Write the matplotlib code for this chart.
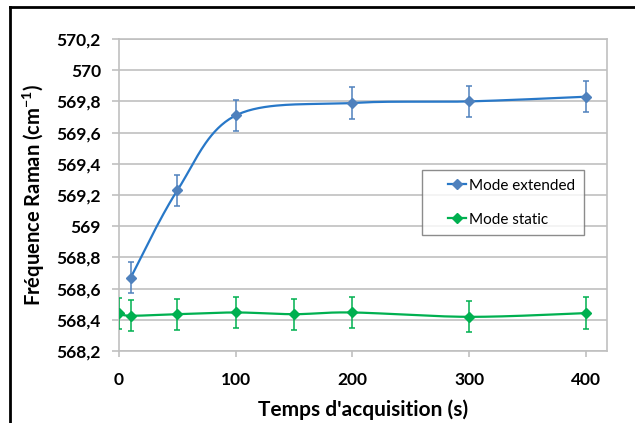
import matplotlib
matplotlib.use('Agg')
import matplotlib.pyplot as plt
import numpy as np
from matplotlib.lines import Line2D
from matplotlib.legend_handler import HandlerLine2D
from matplotlib.ticker import FuncFormatter, MultipleLocator

plt.rcParams['font.family'] = ['Lato', 'DejaVu Sans']
plt.rcParams['mathtext.fontset'] = 'custom'
plt.rcParams['mathtext.rm'] = 'Lato'
plt.rcParams['mathtext.bf'] = 'Lato:bold'

# données
t_extended = [10, 50, 100, 200, 300, 400]
f_extended = [568.67, 569.23, 569.71, 569.79, 569.80, 569.83]
err_extended = [0.1, 0.1, 0.1, 0.1, 0.1, 0.1]

t_static = [0, 10, 50, 100, 150, 200, 300, 400]
f_static = [568.441, 568.426, 568.436, 568.447, 568.436, 568.447, 568.419, 568.443]
err_static = [0.1, 0.1, 0.1, 0.1, 0.1, 0.1, 0.1, 0.1]

labels = ['Mode extended', 'Mode static']
col_line = ['#2878C8', '#00B050']
col_mark = ['#4F81BD', '#00B050']


def smooth(x, y, n=40):
    # lissage type Excel (Bezier, tangentes Catmull-Rom)
    p = np.column_stack([x, y]).astype(float)
    pts = []
    for i in range(len(p) - 1):
        p0 = p[i - 1] if i > 0 else p[i]
        p3 = p[i + 2] if i + 2 < len(p) else p[i + 1]
        c1 = p[i] + (p[i + 1] - p0) / 6
        c2 = p[i + 1] - (p3 - p[i]) / 6
        t = np.linspace(0, 1, n)[:, None]
        seg = ((1 - t) ** 3 * p[i] + 3 * (1 - t) ** 2 * t * c1
               + 3 * (1 - t) * t ** 2 * c2 + t ** 3 * p[i + 1])
        pts.append(seg if i == 0 else seg[1:])
    s = np.vstack(pts)
    return s[:, 0], s[:, 1]


class ShortHandler(HandlerLine2D):
    # trait de légende court, collé au texte
    def create_artists(self, legend, orig_handle, xdescent, ydescent, width,
                       height, fontsize, trans):
        arts = super().create_artists(legend, orig_handle, xdescent, ydescent,
                                      width, height, fontsize, trans)
        for a in arts:
            x = np.asarray(a.get_xdata(), float)
            a.set_xdata(width * 0.5 + x * 0.5)
        return arts


fig = plt.figure(figsize=(6.35, 4.23), dpi=100)
ax = fig.add_axes([119 / 635, 1 - 351 / 423, (607 - 119) / 635, (351 - 39) / 423])

series = [(t_extended, f_extended, err_extended), (t_static, f_static, err_static)]
for i, (tx, fy, err) in enumerate(series):
    sx, sy = smooth(tx, fy)
    ax.plot(sx, sy, color=col_line[i], lw=1.6, zorder=3)
    ax.errorbar(tx, fy, yerr=err, fmt='D', color=col_mark[i], ms=5, lw=1.1,
                capsize=2.5, capthick=1.1, zorder=4)

ax.set_xlim(0, 418)
ax.set_ylim(568.2, 570.2)
ax.xaxis.set_major_locator(MultipleLocator(100))
ax.yaxis.set_major_locator(MultipleLocator(0.2))
ax.yaxis.set_major_formatter(FuncFormatter(
    lambda v, p: f'{v:.1f}'.rstrip('0').rstrip('.').replace('.', ',')))

ax.grid(axis='y', color='#C0C0C0', lw=1.2)
ax.set_axisbelow(True)
for s in ax.spines.values():
    s.set_color('#C0C0C0')
    s.set_linewidth(1.2)
ax.tick_params(axis='y', length=5, width=1.2, color='#C0C0C0', pad=8, labelsize=12.5)
ax.tick_params(axis='x', length=4, width=1.2, color='#C0C0C0', pad=11, labelsize=12.5)
for lab in ax.get_xticklabels() + ax.get_yticklabels():
    lab.set_fontweight('bold')

ax.set_ylabel(r'Fréquence Raman (cm$^{\mathbf{-1}}$)', fontsize=14.5, fontweight='bold', labelpad=7)
ax.set_xlabel("Temps d'acquisition (s)", fontsize=15, fontweight='bold', labelpad=8)

handles = [Line2D([], [], color=col_line[i], marker='D', ms=5, mfc=col_mark[i],
                  mec=col_mark[i], lw=1.6) for i in range(2)]
leg = ax.legend(handles, labels, loc='upper left', bbox_to_anchor=(0.621, 0.580),
                fontsize=11, frameon=True, fancybox=False, handlelength=2.3,
                handletextpad=0.2, labelspacing=1.3, borderpad=0.57, borderaxespad=0,
                handler_map={Line2D: ShortHandler(numpoints=1)})
leg.get_frame().set_edgecolor('#707070')
leg.get_frame().set_linewidth(1.0)

# cadre noir (haut et gauche)
fig.add_artist(Line2D([10 / 635, 1], [1 - 7 / 423, 1 - 7 / 423], color='black', lw=2))
fig.add_artist(Line2D([10 / 635, 10 / 635], [0, 1 - 7 / 423], color='black', lw=2))

fig.savefig('out.png', dpi=100)
